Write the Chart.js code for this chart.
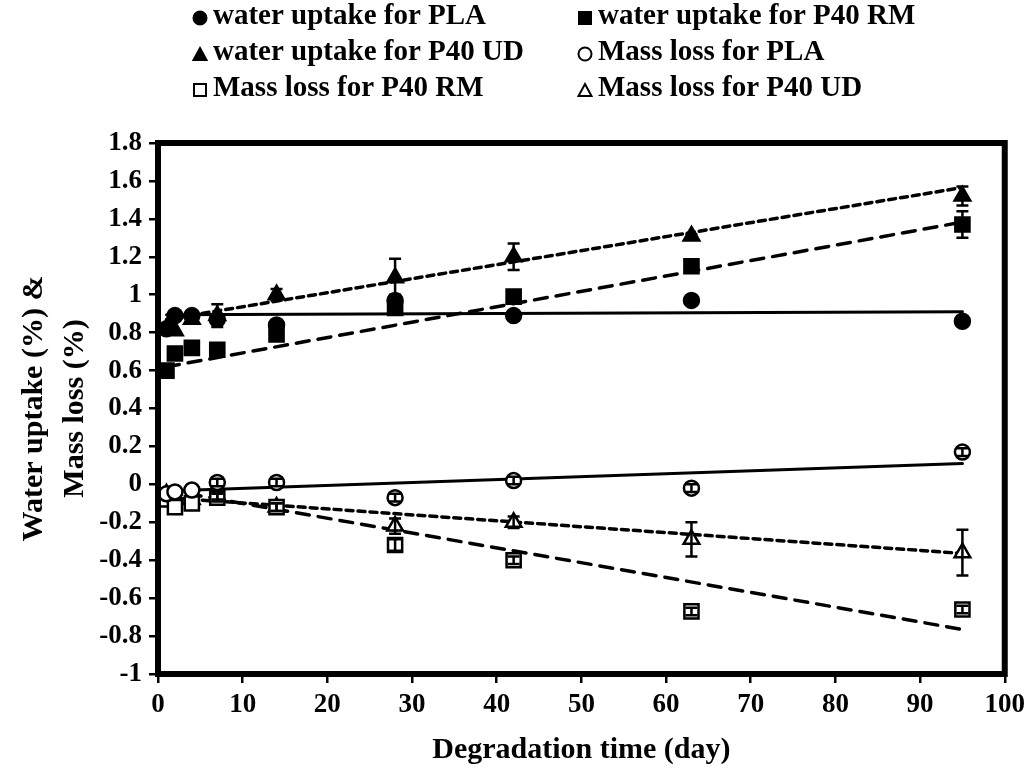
<!DOCTYPE html>
<html>
<head>
<meta charset="utf-8">
<script src="https://cdn.jsdelivr.net/npm/chart.js@4"></script>
<style>
  html, body { margin: 0; padding: 0; background: #fff; }
  #wrap { width: 1031px; height: 772px; }
</style>
</head>
<body>
<div id="wrap"><canvas id="degChart" width="1031" height="772"></canvas></div>
<script>
const days = [1, 2, 4, 7, 14, 28, 42, 63, 95];

const waterPLA = [0.82, 0.89, 0.89, 0.87, 0.84, 0.97, 0.89, 0.97, 0.86];
const waterRM  = [0.60, 0.69, 0.72, 0.71, 0.79, 0.93, 0.99, 1.15, 1.37];
const waterUD  = [0.82, 0.81, 0.87, 0.89, 1.00, 1.09, 1.20, 1.31, 1.52];
const massPLA  = [-0.05, -0.04, -0.03, 0.01, 0.01, -0.07, 0.02, -0.02, 0.17];
const massRM   = [-0.08, -0.12, -0.10, -0.07, -0.12, -0.32, -0.40, -0.67, -0.66];
const massUD   = [-0.05, -0.07, -0.08, -0.06, -0.12, -0.22, -0.20, -0.29, -0.36];

const errWaterPLA = [0, 0, 0, 0.02, 0.02, 0.03, 0, 0, 0];
const errWaterRM  = [0, 0, 0, 0, 0.02, 0.03, 0.02, 0, 0.07];
const errWaterUD  = [0, 0, 0, 0.06, 0.03, 0.10, 0.07, 0.01, 0.05];
const errMassPLA  = [0, 0, 0, 0.02, 0.02, 0.02, 0.02, 0.02, 0.02];
const errMassRM   = [0, 0, 0, 0.02, 0.02, 0.03, 0.02, 0.02, 0.02];
const errMassUD   = [0, 0, 0, 0.02, 0.02, 0.04, 0.03, 0.09, 0.12];

// trend lines: [start, end] as [day, value]
const trendWaterPLA = [[1, 0.895], [95, 0.91]];
const trendWaterRM  = [[1, 0.62], [95, 1.383]];
const trendWaterUD  = [[1, 0.87], [95, 1.565]];
const trendMassPLA  = [[1, -0.035], [95, 0.11]];
const trendMassRM   = [[1, -0.03], [95, -0.765]];
const trendMassUD   = [[1, -0.07], [95, -0.364]];

const seriesNames = [
    'water uptake for PLA', 'water uptake for P40 RM', 'water uptake for P40 UD',
    'Mass loss for PLA', 'Mass loss for P40 RM', 'Mass loss for P40 UD'
];

const xTicks = [0, 10, 20, 30, 40, 50, 60, 70, 80, 90, 100];
const yTicks = [-1, -0.8, -0.6, -0.4, -0.2, 0, 0.2, 0.4, 0.6, 0.8, 1, 1.2, 1.4, 1.6, 1.8];

const FONT = "'Liberation Serif', 'Times New Roman', serif";

function pts(vals) {
    return days.map((d, i) => ({ x: d, y: vals[i] }));
}
function line(tr) {
    return tr.map(p => ({ x: p[0], y: p[1] }));
}

function marker(label, vals, errs, style, filled, radius) {
    return {
        type: 'scatter',
        label: label,
        data: pts(vals),
        errors: errs,
        pointStyle: style,
        pointRadius: radius,
        pointHoverRadius: radius,
        pointBorderWidth: 2.5,
        borderColor: '#000',
        backgroundColor: filled ? '#000' : '#fff',
        order: 1
    };
}
function trend(tr, dash, width) {
    return {
        type: 'line',
        label: '',
        data: line(tr),
        borderColor: '#000',
        borderWidth: width,
        borderDash: dash,
        borderCapStyle: 'round',
        pointRadius: 0,
        fill: false,
        order: 3
    };
}

const datasets = [
    marker(seriesNames[0], waterPLA, errWaterPLA, 'circle', true, 7.5),
    marker(seriesNames[1], waterRM, errWaterRM, 'rect', true, 10),
    marker(seriesNames[2], waterUD, errWaterUD, 'triangle', true, 9),
    marker(seriesNames[3], massPLA, errMassPLA, 'circle', false, 7.5),
    marker(seriesNames[4], massRM, errMassRM, 'rect', false, 10),
    marker(seriesNames[5], massUD, errMassUD, 'triangle', false, 9),
    trend(trendWaterPLA, [], 3),
    trend(trendWaterRM, [13, 9], 3.5),
    trend(trendWaterUD, [7, 5], 3.5),
    trend(trendMassPLA, [], 3),
    trend(trendMassRM, [13, 9], 3.5),
    trend(trendMassUD, [7, 5], 3.5)
];

const errorBars = {
    id: 'errorBars',
    afterDatasetsDraw(chart) {
        const ctx = chart.ctx;
        const xs = chart.scales.x, ys = chart.scales.y;
        ctx.save();
        ctx.strokeStyle = '#000';
        ctx.lineWidth = 2.5;
        chart.data.datasets.forEach(ds => {
            if (!ds.errors) return;
            ds.data.forEach((p, i) => {
                const e = ds.errors[i];
                if (!e) return;
                const px = xs.getPixelForValue(p.x);
                const top = ys.getPixelForValue(p.y + e);
                const bot = ys.getPixelForValue(p.y - e);
                ctx.beginPath();
                ctx.moveTo(px, top); ctx.lineTo(px, bot);
                ctx.moveTo(px - 6, top); ctx.lineTo(px + 6, top);
                ctx.moveTo(px - 6, bot); ctx.lineTo(px + 6, bot);
                ctx.stroke();
            });
        });
        ctx.restore();
    }
};

const frame = {
    id: 'frame',
    afterDraw(chart) {
        const a = chart.chartArea, ctx = chart.ctx;
        ctx.save();
        ctx.strokeStyle = '#000';
        ctx.lineWidth = 6;
        ctx.strokeRect(a.left, a.top, a.right - a.left, a.bottom - a.top);
        ctx.restore();
    }
};

const gridLegend = {
    id: 'gridLegend',
    afterDraw(chart) {
        const ctx = chart.ctx;
        const colX = [200, 585];
        const rowY = [17, 53, 89];
        ctx.save();
        ctx.font = 'bold 29px ' + FONT;
        ctx.textBaseline = 'middle';
        for (let n = 0; n < 6; n++) {
            const ds = chart.data.datasets[n];
            const cx = colX[n % 2], cy = rowY[Math.floor(n / 2)];
            ctx.fillStyle = ds.backgroundColor;
            ctx.strokeStyle = '#000';
            ctx.lineWidth = 2;
            ctx.beginPath();
            if (ds.pointStyle === 'circle') {
                ctx.arc(cx, cy + 1, 6.5, 0, Math.PI * 2);
            } else if (ds.pointStyle === 'rect') {
                ctx.rect(cx - 6, cy - 5, 12, 12);
            } else {
                ctx.moveTo(cx, cy - 5);
                ctx.lineTo(cx + 6.5, cy + 7);
                ctx.lineTo(cx - 6.5, cy + 7);
                ctx.closePath();
            }
            ctx.fill();
            ctx.stroke();
            ctx.fillStyle = '#000';
            ctx.fillText(ds.label, cx + 13, cy);
        }
        ctx.restore();
    }
};

const axisFont = { family: FONT, size: 27, weight: 'bold' };
const titleFont = { family: FONT, size: 30, weight: 'bold', lineHeight: 1.35 };

const config = {
    type: 'scatter',
    data: { datasets: datasets },
    options: {
        responsive: false,
        animation: false,
        layout: { padding: { top: 143, right: 26, left: 0, bottom: 0 } },
        plugins: {
            legend: { display: false },
            tooltip: { enabled: false }
        },
        scales: {
            x: {
                type: 'linear',
                min: 0,
                max: 100,
                afterBuildTicks: s => { s.ticks = xTicks.map(v => ({ value: v })); },
                afterFit: s => { s.height = 98; },
                ticks: { color: '#000', font: axisFont, padding: 6, maxRotation: 0 },
                grid: { display: true, drawOnChartArea: false, drawTicks: true, tickLength: 9, color: '#000', lineWidth: 2.5 },
                border: { display: true, color: '#000', width: 6 },
                title: { display: true, text: 'Degradation time (day)', color: '#000', font: titleFont, padding: { top: 0, bottom: 2 } }
            },
            y: {
                type: 'linear',
                min: -1,
                max: 1.8,
                afterBuildTicks: s => { s.ticks = yTicks.map(v => ({ value: v })); },
                afterFit: s => { s.width = 158; },
                ticks: {
                    color: '#000',
                    font: axisFont,
                    padding: 7,
                    callback: v => String(parseFloat(v.toFixed(1)))
                },
                grid: { display: true, drawOnChartArea: false, drawTicks: true, tickLength: 9, color: '#000', lineWidth: 2.5 },
                border: { display: true, color: '#000', width: 6 },
                title: { display: true, text: ['Water uptake (%) &', 'Mass loss (%)'], color: '#000', font: titleFont, padding: { top: 14, bottom: 4 } }
            }
        }
    },
    plugins: [errorBars, frame, gridLegend]
};

new Chart(document.getElementById('degChart'), config);
</script>
</body>
</html>
